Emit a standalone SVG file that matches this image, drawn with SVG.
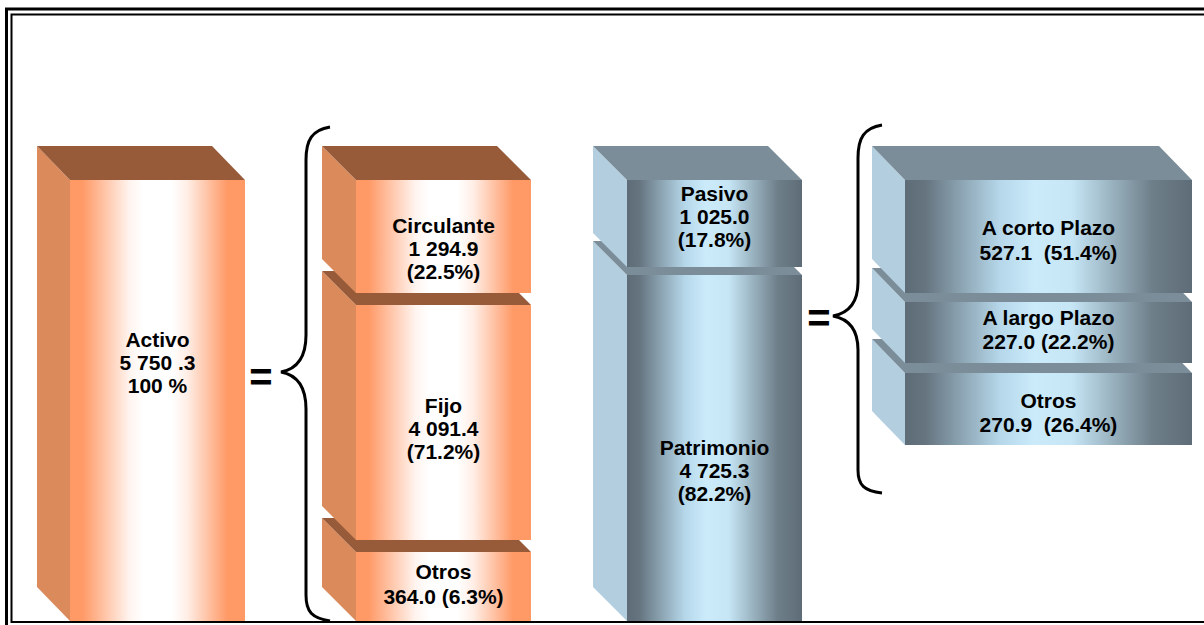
<svg xmlns="http://www.w3.org/2000/svg" width="1204" height="625" viewBox="0 0 1204 625">
<style>
.t{font-family:"Liberation Sans",Arial,sans-serif;font-weight:bold;font-size:21px;fill:#000;text-anchor:middle;white-space:pre}
.eq{font-family:"Liberation Sans",Arial,sans-serif;font-weight:bold;font-size:40px;fill:#000;text-anchor:middle}
.otop{fill:#985B3A}
.oside{fill:#DB8A5C}
.ofront{fill:url(#og)}
.btop{fill:#7B8D99}
.bside{fill:#B2CEDF}
.bfront{fill:url(#bg)}
.brace{fill:none;stroke:#000;stroke-width:3}
.frame{fill:none;stroke:#000}
</style>
<defs>
<linearGradient id="og" x1="0" y1="0" x2="1" y2="0">
<stop offset="0" stop-color="#FF9966"/>
<stop offset="0.07" stop-color="#FF9966"/>
<stop offset="0.34" stop-color="#FFF4EF"/>
<stop offset="0.42" stop-color="#FFFFFF"/>
<stop offset="0.58" stop-color="#FFFFFF"/>
<stop offset="0.67" stop-color="#FFEEE6"/>
<stop offset="0.9" stop-color="#FF9966"/>
<stop offset="1" stop-color="#FF9966"/>
</linearGradient>
<linearGradient id="bg" x1="0" y1="0" x2="1" y2="0">
<stop offset="0" stop-color="#5E6C77"/>
<stop offset="0.07" stop-color="#65747F"/>
<stop offset="0.33" stop-color="#B5D7E9"/>
<stop offset="0.45" stop-color="#CBEBFB"/>
<stop offset="0.58" stop-color="#C6E6F6"/>
<stop offset="0.86" stop-color="#6E7F8A"/>
<stop offset="1" stop-color="#5E6C77"/>
</linearGradient>
</defs>

<g id="frame">
<rect class="frame" x="6.5" y="9" width="1220" height="630" stroke-width="3"/>
<rect class="frame" x="11.5" y="14.5" width="1210" height="607.5" stroke-width="2"/>
</g>

<g id="activo">
<polygon class="oside" points="37,146 70,180 70,621 37,587"/>
<polygon class="otop" points="37,146 212,146 245,180 70,180"/>
<rect class="ofront" x="70" y="180" width="175" height="441"/>
<text class="t" x="157.5" y="347">Activo</text>
<text class="t" x="157.5" y="370">5 750 .3</text>
<text class="t" x="157.5" y="393">100 %</text>
</g>

<g id="otros-activo">
<polygon class="oside" points="322,518 356,552 356,621 322,587"/>
<polygon class="otop" points="322,518 497,518 531,552 356,552"/>
<rect class="ofront" x="356" y="552" width="175" height="69"/>
<text class="t" x="443.5" y="579">Otros</text>
<text class="t" x="443.5" y="604">364.0 (6.3%)</text>
</g>

<g id="fijo">
<polygon class="oside" points="322,271 356,305 356,540 322,506"/>
<polygon class="otop" points="322,271 497,271 531,305 356,305"/>
<rect class="ofront" x="356" y="305" width="175" height="235"/>
<text class="t" x="443.5" y="413">Fijo</text>
<text class="t" x="443.5" y="436">4 091.4</text>
<text class="t" x="443.5" y="459">(71.2%)</text>
</g>

<g id="circulante">
<polygon class="oside" points="322,146 356,180 356,293 322,259"/>
<polygon class="otop" points="322,146 497,146 531,180 356,180"/>
<rect class="ofront" x="356" y="180" width="175" height="113"/>
<text class="t" x="443.5" y="233">Circulante</text>
<text class="t" x="443.5" y="256">1 294.9</text>
<text class="t" x="443.5" y="279">(22.5%)</text>
</g>

<g id="patrimonio">
<polygon class="bside" points="593,241 627,275 627,621 593,587"/>
<polygon class="btop" points="593,241 768,241 802,275 627,275"/>
<rect class="bfront" x="627" y="275" width="175" height="346"/>
<text class="t" x="714.5" y="455">Patrimonio</text>
<text class="t" x="714.5" y="478">4 725.3</text>
<text class="t" x="714.5" y="501">(82.2%)</text>
</g>

<g id="pasivo">
<polygon class="bside" points="593,146 627,180 627,267 593,233"/>
<polygon class="btop" points="593,146 768,146 802,180 627,180"/>
<rect class="bfront" x="627" y="180" width="175" height="87"/>
<text class="t" x="714.5" y="201">Pasivo</text>
<text class="t" x="714.5" y="224">1 025.0</text>
<text class="t" x="714.5" y="247">(17.8%)</text>
</g>

<g id="otros-pasivo">
<polygon class="bside" points="872,339 905,373 905,445 872,411"/>
<polygon class="btop" points="872,339 1159,339 1192,373 905,373"/>
<rect class="bfront" x="905" y="373" width="287" height="72"/>
<text class="t" x="1048.5" y="408">Otros</text>
<text class="t" x="1048.5" y="432" xml:space="preserve">270.9  (26.4%)</text>
</g>

<g id="largo-plazo">
<polygon class="bside" points="872,268 905,302 905,363 872,329"/>
<polygon class="btop" points="872,268 1159,268 1192,302 905,302"/>
<rect class="bfront" x="905" y="302" width="287" height="61"/>
<text class="t" x="1048.5" y="325">A largo Plazo</text>
<text class="t" x="1048.5" y="349">227.0 (22.2%)</text>
</g>

<g id="corto-plazo">
<polygon class="bside" points="872,146 905,180 905,293 872,259"/>
<polygon class="btop" points="872,146 1159,146 1192,180 905,180"/>
<rect class="bfront" x="905" y="180" width="287" height="113"/>
<text class="t" x="1048.5" y="235">A corto Plazo</text>
<text class="t" x="1048.5" y="260" xml:space="preserve">527.1  (51.4%)</text>
</g>

<g id="connectors">
<path class="brace" d="M330,127 C312,130 306,140 306,160 L306,335 C306,358 297,369 281,372 C297,375 306,386 306,409 L306,595 C306,612 312,618 330,621"/>
<path class="brace" d="M882,125 C864,128 858,138 858,158 L858,282 C858,303 849,313 833,316 C849,319 858,329 858,350 L858,470 C858,485 864,491 882,493"/>
<text class="eq" x="261" y="391">=</text>
<text class="eq" x="819" y="332">=</text>
</g>
</svg>
